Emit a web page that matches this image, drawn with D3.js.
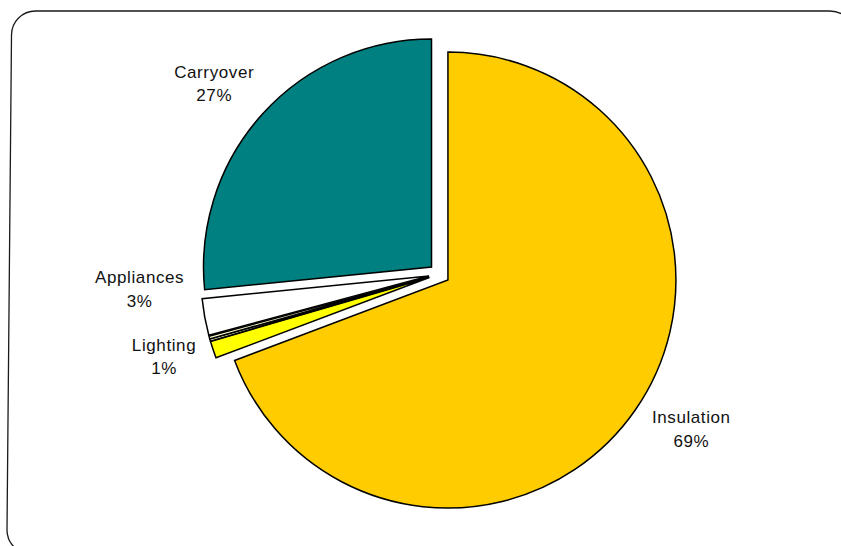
<!DOCTYPE html>
<html>
<head>
<meta charset="utf-8">
<script src="https://cdn.jsdelivr.net/npm/d3@7"></script>
<style>
  html, body { margin: 0; padding: 0; background: #fff; }
  svg { display: block; }
</style>
</head>
<body>
<svg id="chart" width="841" height="546"></svg>
<script>
// ---- data (clockwise from 12 o'clock) ----
const categories = ["Insulation", "Lighting", "Other A", "Other B", "Appliances", "Carryover"];
const values     = [69.3, 1.2, 0.15, 0.2, 2.6, 26.6];
const colors     = ["#FFCC00", "#FFFF00", "#FFFFCC", "#FFFFCC", "#FFFFFF", "#008080"];

// ---- layout ----
const W = 841, H = 546;
const cx = 439.3, cy = 274.1, R = 228, explode = 10.5, labelR = 285;
const labelNudge = {
  "Insulation": [9, -19],
  "Lighting":   [5, -17],
  "Appliances": [-9, -44],
  "Carryover":  [-6, 2]
};

const svg = d3.select("#chart");

// frame (rounded border, partially cut by the page edge)
svg.append("path")
  .attr("d", "M 11.5 35 A 24 24 0 0 1 35.5 11 H 830 A 24 24 0 0 1 854 35 V 530 A 24 24 0 0 1 830 554 H 31 A 24 24 0 0 1 7 530 Z")
  .attr("fill", "none")
  .attr("stroke", "#1a1a1a")
  .attr("stroke-width", 1.3);

const data = categories.map((c, i) => ({ name: c, value: values[i], color: colors[i] }));
const total = d3.sum(values);

const pie = d3.pie().sort(null).value(d => d.value);
const arcs = pie(data);
const arcGen = d3.arc().innerRadius(0).outerRadius(R);

const dir = a => [Math.sin(a), -Math.cos(a)];

const g = svg.append("g");
arcs.forEach(a => {
  const mid = (a.startAngle + a.endAngle) / 2;
  const [dx, dy] = dir(mid);
  const ax = cx + explode * dx, ay = cy + explode * dy;
  g.append("path")
    .attr("transform", `translate(${ax},${ay})`)
    .attr("d", arcGen(a))
    .attr("fill", a.data.color)
    .attr("stroke", "#000")
    .attr("stroke-width", 1.5)
    .attr("stroke-linejoin", "miter");

  const pct = Math.round(a.data.value / total * 100);
  if (pct >= 1) {
    const nud = labelNudge[a.data.name] || [0, 0];
    const lx = ax + labelR * dx + nud[0];
    const ly = ay + labelR * dy + nud[1];
    const t = svg.append("text")
      .attr("text-anchor", "middle")
      .attr("font-family", "'Liberation Sans', Arial, sans-serif")
      .attr("font-size", 17)
      .attr("letter-spacing", 0.6)
      .attr("fill", "#111");
    t.append("tspan").attr("x", lx).attr("y", ly).text(a.data.name);
    t.append("tspan").attr("x", lx).attr("y", ly + 23.5).text(pct + "%");
  }
});
</script>
</body>
</html>
